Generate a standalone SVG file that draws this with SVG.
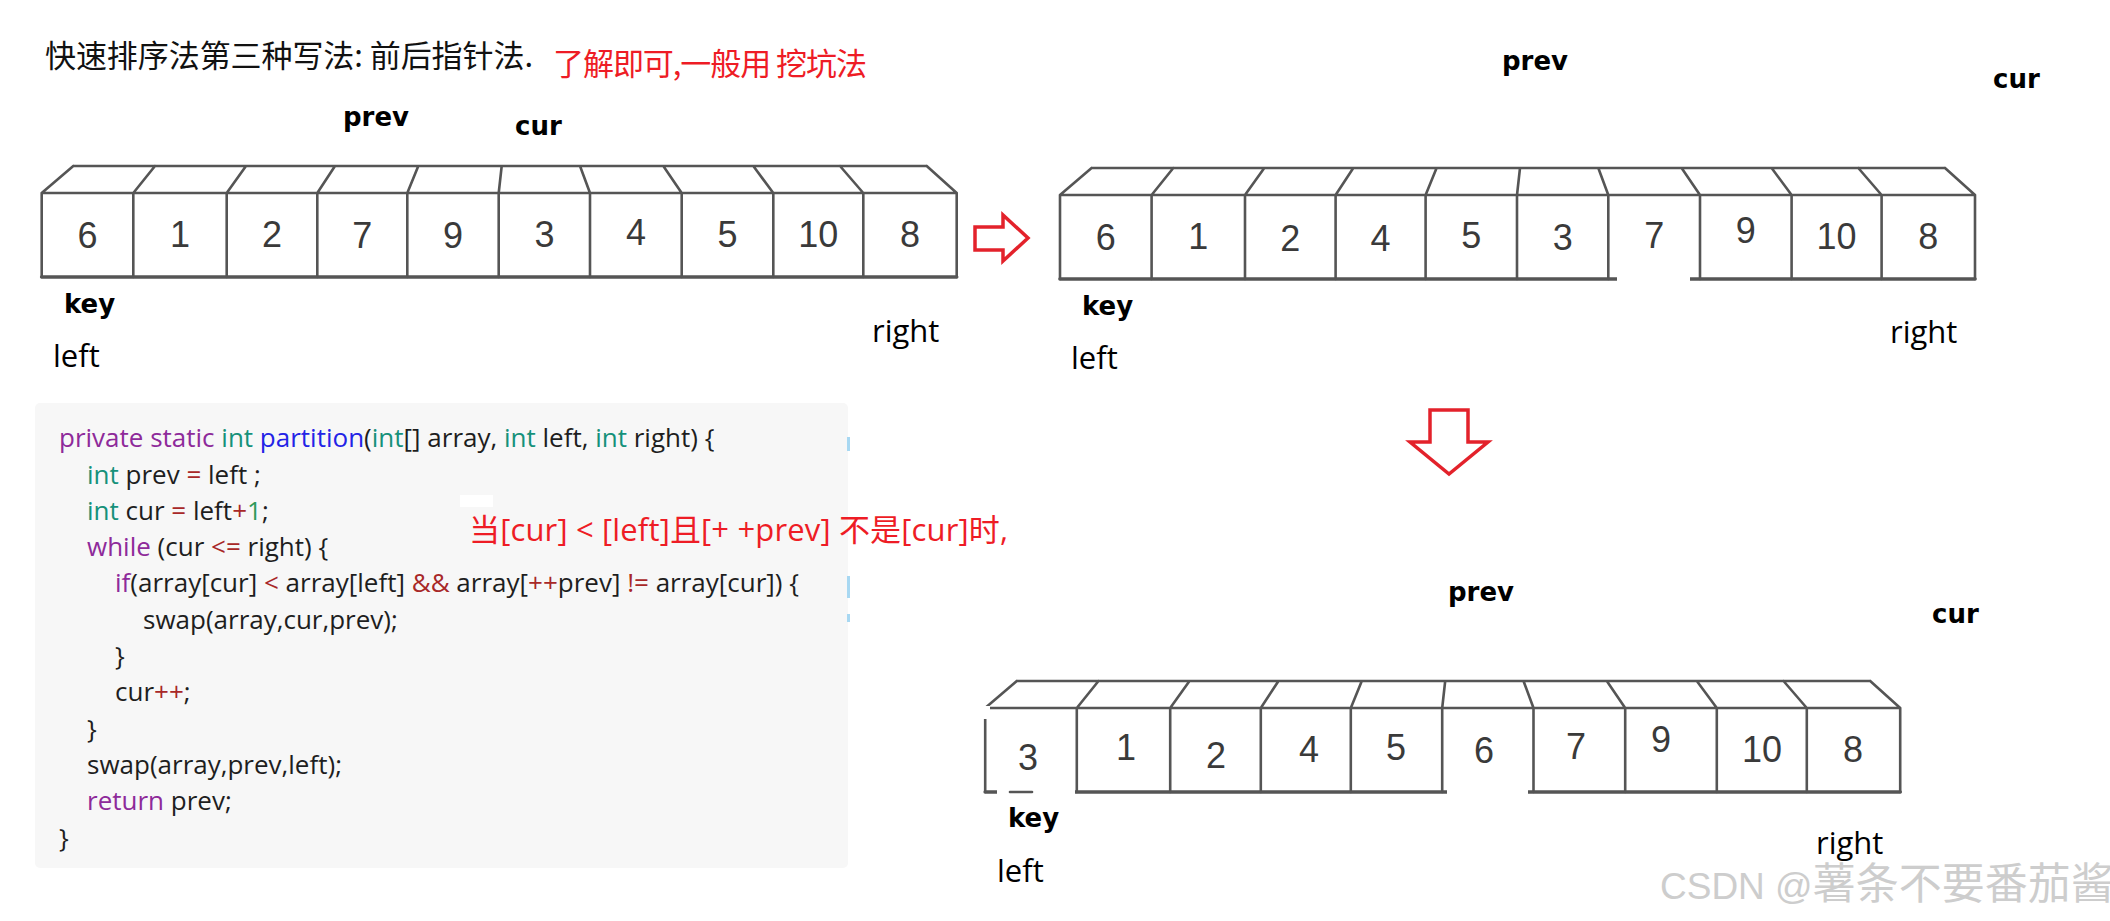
<svg xmlns="http://www.w3.org/2000/svg" xmlns:xlink="http://www.w3.org/1999/xlink" width="2110" height="921" viewBox="0 0 2110 921">
<style>
.fr{fill:none;stroke:#555;stroke-width:2.6;stroke-linecap:round;stroke-linejoin:round}
.frb{fill:none;stroke:#555;stroke-width:3.6;stroke-linecap:round}
.dg{font-family:"Liberation Sans",Arial,sans-serif;font-size:36px;fill:#3a3a3a;text-anchor:middle}
.lb{font-family:"DejaVu Sans",Verdana,sans-serif;font-weight:bold;font-size:26px;fill:#000}
.ln{font-family:"Open Sans","Noto Sans",sans-serif;font-size:31px;fill:#000}
.title{font-family:"Noto Sans CJK SC","Noto Sans",sans-serif;font-size:31px;fill:#111}
.red{font-family:"Open Sans","Noto Sans CJK SC",sans-serif;font-size:31px;fill:#ee1c25}
.code{font-family:"Open Sans","Noto Sans",sans-serif;font-size:26px;fill:#1e1e1e}
.kw{fill:#8e2a9a}
.ty{fill:#15917a}
.fn{fill:#2323e6}
.op{fill:#a82828}
.num{fill:#2e9a5a}
.arrow{fill:#fff;stroke:#e3222b;stroke-width:3.5;stroke-linejoin:miter}
.wm{font-family:"Liberation Sans","Noto Sans CJK SC",sans-serif;fill:#cdcdcd}
</style>
<defs>
<g id="frame">
<path class="fr" d="M41.7,193 H956.7 M41.7,193 V277 M956.7,193 V277 M133.3,193 V277 M226.7,193 V277 M317.3,193 V277 M407.3,193 V277 M498.7,193 V277 M590,193 V277 M681.7,193 V277 M773.3,193 V277 M863.3,193 V277 M73.3,166 H926.7 M41.7,193 L73.3,166 M956.7,193 L926.7,166 M133.3,193 L155,166 M226.7,193 L246,166 M317.3,193 L335,166 M407.3,193 L418.3,166 M498.7,193 L501.7,166 M590,193 L580,166 M681.7,193 L663.3,166 M773.3,193 L753.3,166 M863.3,193 L840,166"/>
<path class="frb" d="M41.7,277 H956.7"/>
</g>
</defs>
<rect width="2110" height="921" fill="#fff"/>

<g id="title">
<text class="title" x="45" y="67" textLength="488" lengthAdjust="spacing">快速排序法第三种写法: 前后指针法.</text>
<text class="red" x="553" y="75" style="font-family:'Noto Sans CJK SC',sans-serif" textLength="314" lengthAdjust="spacing">了解即可,一般用 挖坑法</text>
</g>

<g id="array1">
<use xlink:href="#frame"/>
<text class="dg" x="87.5" y="248">6</text>
<text class="dg" x="180" y="247">1</text>
<text class="dg" x="272" y="247">2</text>
<text class="dg" x="362.3" y="248">7</text>
<text class="dg" x="453" y="248">9</text>
<text class="dg" x="544.4" y="247">3</text>
<text class="dg" x="635.9" y="245">4</text>
<text class="dg" x="727.5" y="247">5</text>
<text class="dg" x="818.3" y="247">10</text>
<text class="dg" x="910" y="247">8</text>
<text class="lb" x="343" y="126">prev</text>
<text class="lb" x="515" y="135">cur</text>
<text class="lb" x="64" y="313">key</text>
<text class="ln" x="53" y="367">left</text>
<text class="ln" x="872" y="342">right</text>
</g>

<g id="array2">
<use xlink:href="#frame" transform="translate(1018.3,2)"/>
<rect x="1617" y="272" width="73" height="10" fill="#fff"/>
<text class="dg" x="1105.8" y="250">6</text>
<text class="dg" x="1198.3" y="249">1</text>
<text class="dg" x="1290.3" y="251">2</text>
<text class="dg" x="1380.6" y="251">4</text>
<text class="dg" x="1471.3" y="248">5</text>
<text class="dg" x="1562.7" y="250">3</text>
<text class="dg" x="1654.2" y="248">7</text>
<text class="dg" x="1745.8" y="243">9</text>
<text class="dg" x="1836.6" y="249">10</text>
<text class="dg" x="1928.3" y="249">8</text>
<text class="lb" x="1502" y="70">prev</text>
<text class="lb" x="1993" y="88">cur</text>
<text class="lb" x="1082" y="315">key</text>
<text class="ln" x="1071" y="369">left</text>
<text class="ln" x="1890" y="343">right</text>
</g>

<g id="array3">
<use xlink:href="#frame" transform="translate(943.5,515)"/>
<rect x="980" y="706" width="10" height="13" fill="#fff"/>
<rect x="997" y="786" width="78" height="11" fill="#fff"/>
<path class="fr" d="M1010,792 H1032"/>
<rect x="1447" y="786" width="81" height="11" fill="#fff"/>
<text class="dg" x="1028" y="770">3</text>
<text class="dg" x="1126" y="760">1</text>
<text class="dg" x="1216" y="768">2</text>
<text class="dg" x="1309" y="762">4</text>
<text class="dg" x="1396" y="760">5</text>
<text class="dg" x="1484" y="763">6</text>
<text class="dg" x="1576" y="759">7</text>
<text class="dg" x="1661" y="752">9</text>
<text class="dg" x="1762" y="762">10</text>
<text class="dg" x="1853" y="762">8</text>
<text class="lb" x="1448" y="601">prev</text>
<text class="lb" x="1932" y="623">cur</text>
<text class="lb" x="1008" y="827">key</text>
<text class="ln" x="997" y="882">left</text>
<text class="ln" x="1816" y="854">right</text>
</g>

<g id="code">
<rect x="35" y="403" width="813" height="465" rx="5" fill="#f7f7f7"/>
<rect x="460" y="495" width="33" height="12" fill="#fff"/>
<rect x="847" y="437" width="3" height="14" fill="#a8d8f2"/>
<rect x="847" y="576" width="3" height="22" fill="#a8d8f2"/>
<rect x="847" y="614" width="3" height="8" fill="#a8d8f2"/>
<text class="code" x="59" y="447"><tspan class="kw">private static</tspan> <tspan class="ty">int</tspan> <tspan class="fn">partition</tspan>(<tspan class="ty">int</tspan>[] array, <tspan class="ty">int</tspan> left, <tspan class="ty">int</tspan> right) {</text>
<text class="code" x="87" y="483.5"><tspan class="ty">int</tspan> prev <tspan class="op">=</tspan> left ;</text>
<text class="code" x="87" y="520"><tspan class="ty">int</tspan> cur <tspan class="op">=</tspan> left<tspan class="op">+</tspan><tspan class="num">1</tspan>;</text>
<text class="code" x="87" y="556"><tspan class="kw">while</tspan> (cur <tspan class="op">&lt;=</tspan> right) {</text>
<text class="code" x="115" y="592"><tspan class="kw">if</tspan>(array[cur] <tspan class="op">&lt;</tspan> array[left] <tspan class="op">&amp;&amp;</tspan> array[<tspan class="op">++</tspan>prev] <tspan class="op">!=</tspan> array[cur]) {</text>
<text class="code" x="143" y="628.5">swap(array,cur,prev);</text>
<text class="code" x="115" y="665">}</text>
<text class="code" x="115" y="701">cur<tspan class="op">++</tspan>;</text>
<text class="code" x="87" y="737.5">}</text>
<text class="code" x="87" y="774">swap(array,prev,left);</text>
<text class="code" x="87" y="810"><tspan class="kw">return</tspan> prev;</text>
<text class="code" x="59" y="846.5">}</text>
</g>

<g id="note">
<text class="red" x="469" y="541" textLength="539" lengthAdjust="spacing">当[cur]  &lt;  [left]且[+ +prev]  不是[cur]时,</text>
</g>

<g id="connectors">
<polygon class="arrow" points="975,227 1003,227 1003,215 1028,238 1003,261 1003,250 975,250"/>
<polygon class="arrow" points="1430,410 1468,410 1468,442 1488,442 1449,474 1410,442 1430,442"/>
</g>

<g id="watermark">
<text class="wm" x="1660" y="899"><tspan font-size="37">CSDN @</tspan><tspan font-size="43">薯条不要番茄酱</tspan></text>
</g>
</svg>
